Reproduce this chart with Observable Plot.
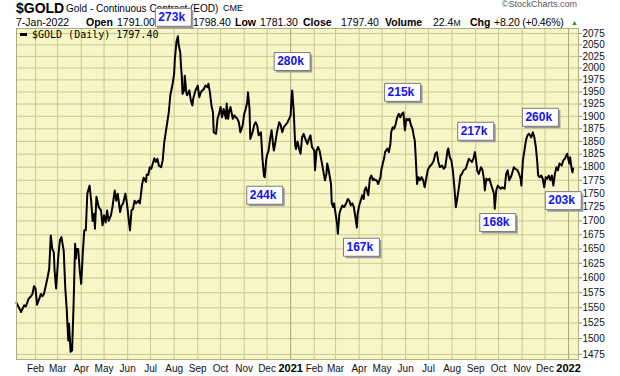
<!DOCTYPE html>
<html><head><meta charset="utf-8">
<script src="https://cdn.jsdelivr.net/npm/d3@7"></script>
<script src="https://cdn.jsdelivr.net/npm/@observablehq/plot@0.6"></script>
<style>
body{margin:0;background:#fff;font-family:Arial,"Liberation Sans",sans-serif;}
#wrap{position:relative;width:620px;height:376px;overflow:hidden}
#hdr{position:absolute;left:0;top:0;width:620px;height:28px;z-index:0;color:#000}
#hdr span{position:absolute;white-space:nowrap;line-height:11px;font-size:10.5px}
#chart{position:absolute;left:0;top:0;z-index:1}
#legend{position:absolute;left:32px;top:30px;z-index:2;font:10px "DejaVu Sans Mono",monospace;line-height:10px;color:#000;white-space:nowrap}
#dash{position:absolute;left:20px;top:33px;width:7px;height:3px;background:#000;z-index:2}
</style></head><body>
<div id="wrap">
 <div id="hdr">
  <span style="left:16px;top:1px;font-size:14px;line-height:14px;font-weight:bold">$GOLD</span>
  <span style="left:66px;top:3px;font-size:10px">Gold - Continuous Contract (EOD)</span>
  <span style="left:223px;top:4px;font-size:9px;line-height:9px">CME</span>
  <span style="right:43px;top:0px;font-size:9px;line-height:9px;color:#555">&copy;StockCharts.com</span>
  <span style="left:16px;top:17px">7-Jan-2022</span>
  <span style="left:86px;top:17px;font-weight:bold">Open</span><span style="left:117px;top:17px">1791.00</span>
  <span style="left:160px;top:17px;font-weight:bold">High</span><span style="left:193px;top:17px">1798.40</span>
  <span style="left:235px;top:17px;font-weight:bold">Low</span><span style="left:260px;top:17px">1781.30</span>
  <span style="left:303px;top:17px;font-weight:bold">Close</span><span style="left:341px;top:17px">1797.40</span>
  <span style="left:385px;top:17px;font-weight:bold">Volume</span><span style="left:433px;top:17px">22.4<span style="position:static;font-size:8.5px">M</span></span>
  <span style="left:470px;top:17px;font-weight:bold">Chg</span><span style="left:494px;top:17px;letter-spacing:-0.2px">+8.20 (+0.46%)</span>
  <span style="left:571px;top:19px;font-size:7px;line-height:7px;color:#2a8a2a">&#9650;</span>
 </div>
 <div id="chart"></div>
 <div id="dash"></div>
 <div id="legend">$GOLD (Daily) 1797.40</div>
</div>
<script>
// Daily close, $GOLD (continuous contract)
const gold2020 = [
["2020-01-07",1558],["2020-01-13",1543],["2020-01-17",1554],["2020-01-19",1552],["2020-01-21",1558],["2020-01-23",1565],
["2020-01-26",1569],["2020-01-28",1573],["2020-01-30",1586],["2020-02-01",1582],["2020-02-03",1555],["2020-02-06",1565],
["2020-02-08",1573],["2020-02-10",1569],["2020-02-12",1573],["2020-02-14",1584],["2020-02-17",1602],["2020-02-19",1616],
["2020-02-21",1674],["2020-02-23",1650],["2020-02-25",1644],["2020-02-26",1613],["2020-02-28",1582],["2020-03-02",1639],
["2020-03-04",1665],["2020-03-06",1671],["2020-03-09",1647],["2020-03-11",1584],["2020-03-13",1546],["2020-03-15",1497],
["2020-03-16",1524],["2020-03-18",1479],["2020-03-20",1481],["2020-03-22",1557],["2020-03-24",1659],["2020-03-25",1633],
["2020-03-26",1650],["2020-03-28",1650],["2020-03-30",1613],["2020-04-01",1590],["2020-04-03",1642],["2020-04-05",1683],
["2020-04-07",1683],["2020-04-09",1750],["2020-04-12",1765],["2020-04-14",1737],["2020-04-16",1700],["2020-04-18",1713],
["2020-04-19",1686],["2020-04-21",1744],["2020-04-24",1725],["2020-04-27",1719],["2020-04-29",1692],["2020-05-01",1710],
["2020-05-03",1697],["2020-05-05",1719],["2020-05-07",1700],["2020-05-10",1710],["2020-05-12",1725],["2020-05-15",1756],
["2020-05-17",1737],["2020-05-19",1750],["2020-05-22",1716],["2020-05-24",1728],["2020-05-26",1732],["2020-05-29",1750],
["2020-05-31",1732],["2020-06-02",1707],["2020-06-04",1683],["2020-06-06",1719],["2020-06-08",1722],["2020-06-10",1737],
["2020-06-12",1732],["2020-06-15",1737],["2020-06-17",1732],["2020-06-20",1768],["2020-06-22",1780],["2020-06-25",1772],
["2020-06-26",1786],["2020-06-28",1785],["2020-06-30",1800],["2020-07-02",1797],["2020-07-06",1817],["2020-07-08",1810],
["2020-07-10",1816],["2020-07-12",1803],["2020-07-15",1800],["2020-07-17",1813],["2020-07-19",1848],["2020-07-21",1868],
["2020-07-23",1888],["2020-07-25",1908],["2020-07-27",1943],["2020-07-30",1967],["2020-08-01",1988],["2020-08-02",2020],
["2020-08-04",2056],["2020-08-06",2069],["2020-08-07",2049],["2020-08-09",2034],["2020-08-10",2005],["2020-08-11",1984],
["2020-08-12",1946],["2020-08-14",1953],["2020-08-15",1984],["2020-08-17",1949],["2020-08-18",1943],["2020-08-21",1953],
["2020-08-23",1932],["2020-08-25",1922],["2020-08-26",1936],["2020-08-29",1953],["2020-09-01",1963],["2020-09-03",1939],
["2020-09-05",1949],["2020-09-07",1953],["2020-09-09",1956],["2020-09-11",1963],["2020-09-14",1960],["2020-09-15",1967],
["2020-09-17",1949],["2020-09-19",1922],["2020-09-21",1908],["2020-09-22",1868],["2020-09-25",1865],["2020-09-27",1895],
["2020-09-29",1905],["2020-10-01",1919],["2020-10-03",1898],["2020-10-05",1915],["2020-10-08",1895],["2020-10-09",1926],
["2020-10-11",1895],["2020-10-12",1908],["2020-10-14",1919],["2020-10-17",1895],["2020-10-19",1902],["2020-10-21",1898],
["2020-10-23",1895],["2020-10-25",1888],["2020-10-27",1868],["2020-10-30",1882],["2020-11-01",1905],["2020-11-03",1915],
["2020-11-05",1929],["2020-11-06",1949],["2020-11-08",1915],["2020-11-09",1855],["2020-11-12",1868],["2020-11-14",1882],
["2020-11-16",1888],["2020-11-18",1882],["2020-11-20",1862],["2020-11-23",1868],["2020-11-25",1816],["2020-11-27",1783],
["2020-11-28",1781],["2020-11-30",1816],["2020-12-01",1823],["2020-12-03",1832],["2020-12-05",1855],["2020-12-07",1872],
["2020-12-09",1842],["2020-12-10",1832],["2020-12-12",1849],["2020-12-14",1868],["2020-12-17",1888],["2020-12-19",1882],
["2020-12-21",1868],["2020-12-23",1878],["2020-12-25",1882],["2020-12-28",1888],["2020-12-30",1895]
];
const gold2021 = [
["2021-01-01",1902],["2021-01-02",1932],["2021-01-03",1953],["2021-01-05",1912],["2021-01-07",1842],["2021-01-08",1835],
["2021-01-10",1850],["2021-01-12",1836],["2021-01-14",1826],["2021-01-16",1858],["2021-01-18",1865],["2021-01-21",1852],
["2021-01-23",1845],["2021-01-25",1855],["2021-01-27",1862],["2021-01-29",1839],["2021-02-01",1832],["2021-02-02",1794],
["2021-02-04",1832],["2021-02-06",1839],["2021-02-08",1832],["2021-02-10",1816],["2021-02-12",1800],["2021-02-15",1775],
["2021-02-17",1787],["2021-02-18",1807],["2021-02-20",1794],["2021-02-23",1768],["2021-02-24",1732],["2021-02-26",1725],
["2021-02-27",1732],["2021-03-01",1713],["2021-03-03",1694],["2021-03-04",1677],["2021-03-06",1713],["2021-03-08",1722],
["2021-03-10",1728],["2021-03-12",1725],["2021-03-15",1732],["2021-03-17",1740],["2021-03-19",1737],["2021-03-21",1728],
["2021-03-23",1732],["2021-03-25",1725],["2021-03-27",1707],["2021-03-29",1688],["2021-03-30",1713],["2021-04-01",1728],
["2021-04-03",1737],["2021-04-05",1747],["2021-04-07",1740],["2021-04-08",1756],["2021-04-10",1762],["2021-04-13",1747],
["2021-04-15",1778],["2021-04-17",1784],["2021-04-19",1775],["2021-04-20",1778],["2021-04-22",1775],["2021-04-24",1775],
["2021-04-26",1768],["2021-04-29",1781],["2021-04-30",1794],["2021-05-02",1807],["2021-05-04",1819],["2021-05-05",1829],
["2021-05-08",1836],["2021-05-10",1829],["2021-05-12",1845],["2021-05-13",1868],["2021-05-15",1878],["2021-05-17",1875],
["2021-05-19",1885],["2021-05-21",1898],["2021-05-23",1905],["2021-05-25",1898],["2021-05-27",1905],["2021-05-29",1908],
["2021-05-31",1872],["2021-06-02",1895],["2021-06-04",1892],["2021-06-06",1895],["2021-06-08",1882],["2021-06-10",1875],
["2021-06-12",1858],["2021-06-13",1852],["2021-06-14",1826],["2021-06-16",1768],["2021-06-18",1781],["2021-06-20",1775],
["2021-06-22",1781],["2021-06-24",1775],["2021-06-26",1762],["2021-06-28",1778],["2021-06-30",1794],["2021-07-02",1800],
["2021-07-06",1807],["2021-07-08",1813],["2021-07-10",1826],["2021-07-12",1829],["2021-07-14",1810],["2021-07-16",1800],
["2021-07-19",1803],["2021-07-21",1797],["2021-07-23",1800],["2021-07-26",1832],["2021-07-27",1836],["2021-07-29",1819],
["2021-07-31",1813],["2021-08-02",1794],["2021-08-04",1762],["2021-08-06",1725],["2021-08-08",1743],["2021-08-10",1762],
["2021-08-12",1784],["2021-08-14",1787],["2021-08-16",1794],["2021-08-19",1797],["2021-08-21",1807],["2021-08-23",1816],
["2021-08-25",1813],["2021-08-27",1810],["2021-08-29",1816],["2021-08-31",1829],["2021-09-01",1819],["2021-09-03",1794],
["2021-09-05",1787],["2021-09-08",1800],["2021-09-10",1794],["2021-09-12",1775],["2021-09-13",1756],["2021-09-15",1778],
["2021-09-17",1775],["2021-09-19",1778],["2021-09-21",1768],["2021-09-23",1759],["2021-09-25",1750],["2021-09-26",1722],
["2021-09-28",1756],["2021-09-30",1765],["2021-10-02",1762],["2021-10-04",1759],["2021-10-06",1762],["2021-10-09",1759],
["2021-10-11",1787],["2021-10-13",1794],["2021-10-15",1775],["2021-10-18",1784],["2021-10-20",1794],["2021-10-21",1800],
["2021-10-23",1797],["2021-10-26",1794],["2021-10-28",1787],["2021-10-30",1778],["2021-10-31",1765],["2021-11-02",1813],
["2021-11-04",1832],["2021-11-06",1852],["2021-11-08",1862],["2021-11-10",1865],["2021-11-13",1858],["2021-11-15",1868],
["2021-11-17",1858],["2021-11-19",1839],["2021-11-21",1807],["2021-11-22",1784],["2021-11-24",1781],["2021-11-26",1784],
["2021-11-28",1778],["2021-11-30",1762],["2021-12-02",1781],["2021-12-04",1778],["2021-12-06",1784],["2021-12-08",1775],
["2021-12-10",1784],["2021-12-12",1765],["2021-12-14",1787],["2021-12-16",1800],["2021-12-18",1794],["2021-12-20",1807],
["2021-12-23",1803],["2021-12-25",1813],["2021-12-27",1816],["2021-12-30",1826]
];
const gold2022 = [["2022-01-02",1807],["2022-01-03",1819],["2022-01-05",1797],["2022-01-06",1790],["2022-01-07",1797.4]];

// Volume call-outs at swing points
const volLabels = ["273k","280k","244k","167k","215k","217k","168k","260k","203k"];
const volDates  = ["2020-07-31","2021-01-03","2020-11-28","2021-04-04","2021-05-28","2021-09-01","2021-09-30","2021-11-25","2021-12-25"];
const volPrices = [2111,2014,1747,1653,1949,1870,1697,1898,1737];

// Axis ticks
const yTicks = [1475,1500,1525,1550,1575,1600,1625,1650,1675,1700,1725,1750,1775,1800,1825,1850,1875,1900,1925,1950,1975,2000,2025,2050,2075];
const monthDates = ["2020-02-01","2020-03-01","2020-04-01","2020-05-01","2020-06-01","2020-07-01","2020-08-01","2020-09-01","2020-10-01","2020-11-01","2020-12-01","2021-01-01",
  "2021-02-01","2021-03-01","2021-04-01","2021-05-01","2021-06-01","2021-07-01","2021-08-01","2021-09-01","2021-10-01","2021-11-01","2021-12-01","2022-01-01"];
const monthLabels = ["Feb","Mar","Apr","May","Jun","Jul","Aug","Sep","Oct","Nov","Dec","2021",
  "Feb","Mar","Apr","May","Jun","Jul","Aug","Sep","Oct","Nov","Dec","2022"];

const gold = [...gold2020, ...gold2021, ...gold2022].map(([d, c]) => ({date: new Date(d), close: c}));
const vol = volLabels.map((l, i) => ({label: l, date: new Date(volDates[i]), price: volPrices[i]}));
const months = monthDates.map((d, i) => ({date: new Date(d), label: monthLabels[i], year: /^\d/.test(monthLabels[i])}));

const boxSymbol = {draw(ctx) { ctx.moveTo(-18, -9); ctx.lineTo(18, -9); ctx.lineTo(18, 9); ctx.lineTo(-18, 9); ctx.closePath(); }};

const chart = Plot.plot({
  width: 620, height: 376,
  marginTop: 28, marginBottom: 17, marginLeft: 16, marginRight: 42,
  style: {background: "transparent", fontFamily: "Arial, 'Liberation Sans', sans-serif", overflow: "visible"},
  x: {type: "utc", domain: [new Date("2020-01-07"), new Date("2022-01-14")], axis: null},
  y: {type: "log", domain: [1467, 2086], axis: null},
  marks: [
    Plot.frame({fill: "#f8f6c6", stroke: null}),
    Plot.ruleY(yTicks, {stroke: "#c8c890", strokeWidth: 1}),
    Plot.ruleX(months.filter(d => !d.year), {x: "date", stroke: "#c8c890", strokeWidth: 1}),
    Plot.ruleX(months.filter(d => d.year), {x: "date", stroke: "#a6a674", strokeWidth: 1}),
    Plot.line(gold, {x: "date", y: "close", stroke: "#000", strokeWidth: 2, strokeLinejoin: "round"}),
    Plot.frame({stroke: "#adad80"}),
    Plot.axisY({anchor: "right", ticks: yTicks, tickFormat: d => String(d), tickSize: 3, tickPadding: 1, fontSize: 10, color: "#111", stroke: "#888"}),
    Plot.text(months.filter(d => !d.year), {x: "date", text: "label", frameAnchor: "bottom", dy: 9, lineAnchor: "middle", fontSize: 10, fill: "#111"}),
    Plot.text(months.filter(d => d.year), {x: "date", text: "label", frameAnchor: "bottom", dy: 9, lineAnchor: "middle", fontSize: 11, fontWeight: "bold", fill: "#000"}),
    Plot.dot(vol, {x: "date", y: "price", symbol: boxSymbol, dx: 2, dy: 2, fill: "#9c9c9c", stroke: null}),
    Plot.dot(vol, {x: "date", y: "price", symbol: boxSymbol, fill: "white", stroke: "#7a7a7a", strokeWidth: 1}),
    Plot.text(vol, {x: "date", y: "price", text: "label", textAnchor: "start", dx: -15, dy: 0, fill: "#1414ee", fontWeight: "bold", fontSize: 12})
  ]
});
document.getElementById("chart").appendChild(chart);
</script>
</body></html>
